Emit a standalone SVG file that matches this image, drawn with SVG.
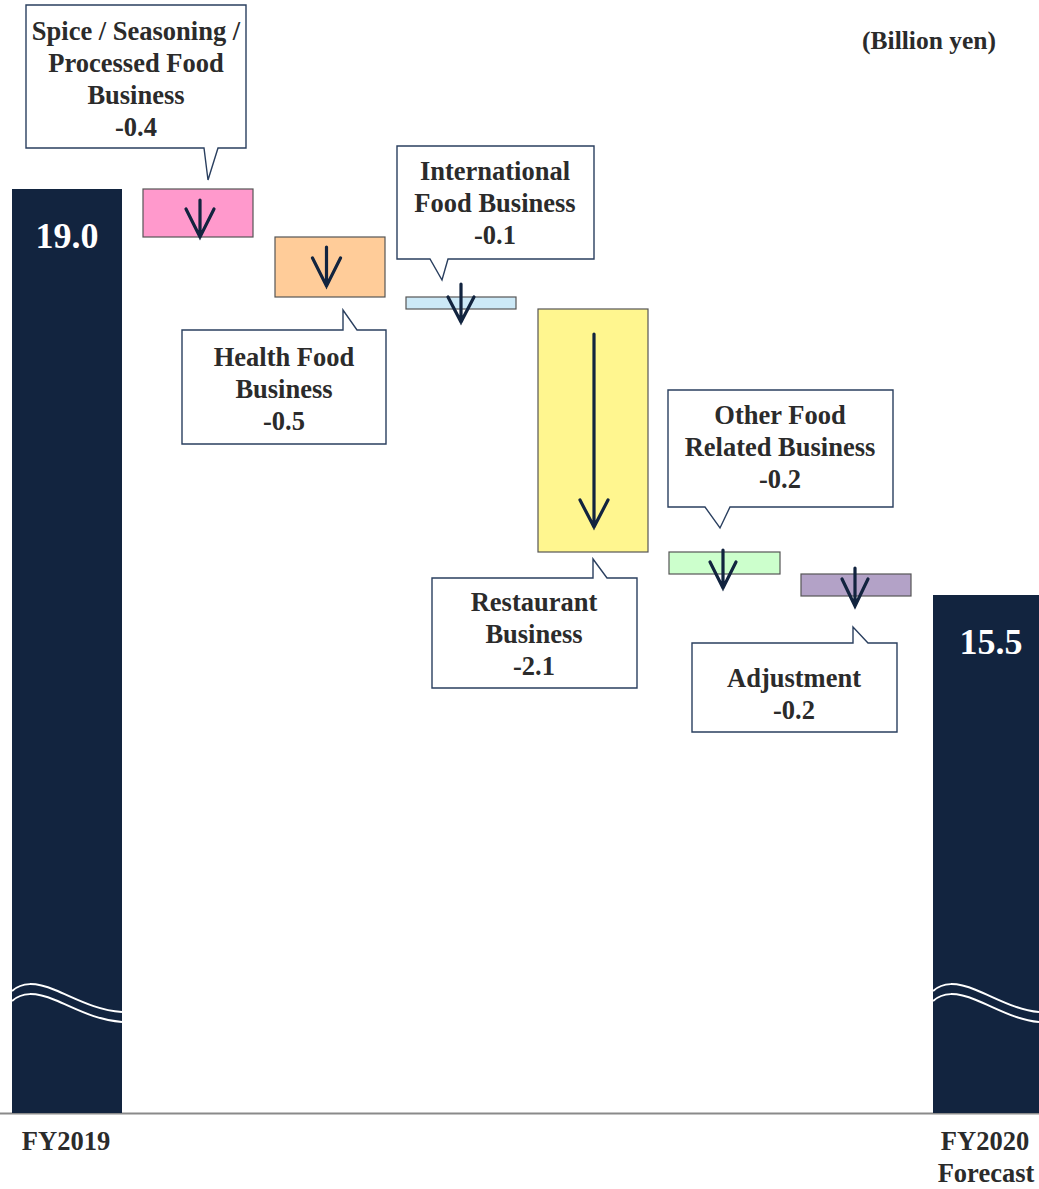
<svg xmlns="http://www.w3.org/2000/svg" width="1039" height="1189" viewBox="0 0 1039 1189">
<style>
.t{font-family:"Liberation Serif","Times New Roman",serif;font-weight:bold;font-size:26.5px;fill:#2b2b2b;text-anchor:middle}
.v{font-family:"Liberation Serif","Times New Roman",serif;font-weight:bold;font-size:36px;fill:#ffffff;text-anchor:middle}
.bar{fill:#12243f}
.box{stroke:#555555;stroke-width:1.2}
.call{fill:#ffffff;stroke:#2a3f5f;stroke-width:1.4;stroke-linejoin:miter}
.arr{fill:none;stroke:#12243f;stroke-width:3.2;stroke-linecap:round;stroke-linejoin:miter}
.wave{fill:none;stroke:#ffffff;stroke-width:2}
</style>
<rect width="1039" height="1189" fill="#ffffff"/>

<g id="axis">
<line x1="0" y1="1113.5" x2="1039" y2="1113.5" stroke="#8a8a8a" stroke-width="2"/>
<text class="t" x="929" y="49" style="font-size:25.5px">(Billion yen)</text>
</g>

<g id="bar-fy2019">
<rect class="bar" x="12" y="189" width="110" height="924"/>
<path class="wave" d="M12,991 C22,982 35,982 55,990 S95,1010 122,1012"/>
<path class="wave" d="M12,1001 C22,992 35,992 55,1000 S95,1020 122,1022"/>
<text class="v" x="67" y="248">19.0</text>
<text class="t" x="66" y="1150">FY2019</text>
</g>

<g id="bar-fy2020">
<rect class="bar" x="933" y="595" width="106" height="518"/>
<path class="wave" d="M933,991 C943,982 956,982 976,990 S1016,1010 1039,1012"/>
<path class="wave" d="M933,1001 C943,992 956,992 976,1000 S1016,1020 1039,1022"/>
<text class="v" x="991" y="654">15.5</text>
<text class="t" x="985" y="1150">FY2020</text>
<text class="t" x="986" y="1182">Forecast</text>
</g>

<g id="spice">
<rect class="box" x="143" y="189" width="110" height="48" fill="#ff99cc"/>
<path class="call" d="M26,5 H246 V148 H218 L208,180 L204,148 H26 Z"/>
<text class="t" x="136" y="40">Spice / Seasoning /</text>
<text class="t" x="136" y="72">Processed Food</text>
<text class="t" x="136" y="104">Business</text>
<text class="t" x="136" y="136">-0.4</text>
</g>

<g id="health">
<rect class="box" x="275" y="237" width="110" height="60" fill="#ffcc99"/>
<path class="call" d="M182,330 H343 V310 L357,330 H386 V444 H182 Z"/>
<text class="t" x="284" y="366">Health Food</text>
<text class="t" x="284" y="398">Business</text>
<text class="t" x="284" y="430">-0.5</text>
</g>

<g id="international">
<rect class="box" x="406" y="297" width="110" height="12" fill="#cce9f7"/>
<path class="call" d="M397,146 H594 V259 H448 L442,280 L430,259 H397 Z"/>
<text class="t" x="495" y="180">International</text>
<text class="t" x="495" y="212">Food Business</text>
<text class="t" x="495" y="244">-0.1</text>
</g>

<g id="restaurant">
<rect class="box" x="538" y="309" width="110" height="243" fill="#fff68f"/>
<path class="call" d="M432,578 H593 V559 L607,578 H637 V688 H432 Z"/>
<text class="t" x="534" y="611">Restaurant</text>
<text class="t" x="534" y="643">Business</text>
<text class="t" x="534" y="675">-2.1</text>
</g>

<g id="other">
<rect class="box" x="669" y="552" width="111" height="22" fill="#ccffcc"/>
<path class="call" d="M668,390 H893 V507 H730 L720,528 L705,507 H668 Z"/>
<text class="t" x="780" y="424">Other Food</text>
<text class="t" x="780" y="456">Related Business</text>
<text class="t" x="780" y="488">-0.2</text>
</g>

<g id="adjustment">
<rect class="box" x="801" y="574" width="110" height="22" fill="#b3a2c7"/>
<path class="call" d="M692,643 H853 V627 L868,643 H897 V732 H692 Z"/>
<text class="t" x="794" y="687">Adjustment</text>
<text class="t" x="794" y="719">-0.2</text>
</g>

<g id="connectors">
<path class="arr" d="M200,200 V237 M186,209 L200,237 L214,209"/>
<path class="arr" d="M326.5,247 V286 M312.5,258 L326.5,286 L340.5,258"/>
<path class="arr" d="M461,284 V322 M448,297 L461,322 L474,297"/>
<path class="arr" d="M594,334 V527 M580,500 L594,527 L608,500"/>
<path class="arr" d="M723,550 V588 M710,562 L723,588 L736,562"/>
<path class="arr" d="M855,568 V606 M842,579 L855,606 L868,579"/>
</g>
</svg>
